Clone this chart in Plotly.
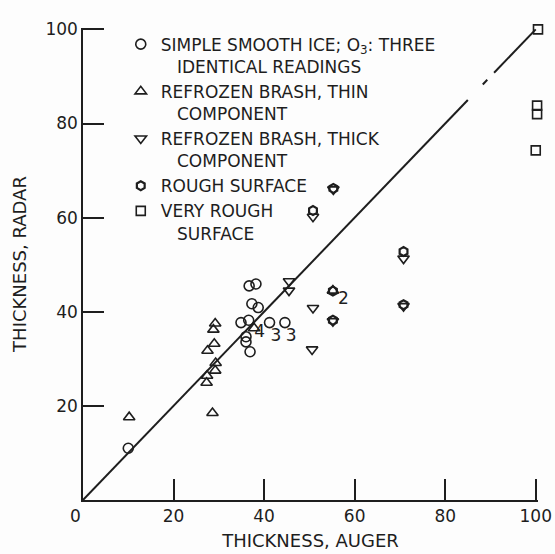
import plotly.graph_objects as go

# --- data ---
smooth_x = [10.0, 36.7, 38.2, 37.3, 38.7, 34.9, 36.6, 36.9, 41.2, 44.6, 36.0, 36.0]
smooth_y = [11.0, 45.5, 45.9, 41.7, 40.9, 37.7, 38.2, 31.5, 37.7, 37.7, 34.7, 33.6]

thin_x = [10.2, 28.6, 27.3, 27.4, 29.2, 29.3, 27.5, 29.0, 28.8, 29.2, 37.8, 55.2]
thin_y = [17.6, 18.5, 24.9, 26.4, 27.5, 29.1, 31.7, 33.2, 36.2, 37.5, 36.5, 44.5]

thick_x = [45.5, 45.5, 50.8, 50.6, 50.8, 55.3, 55.2, 70.8, 70.8]
thick_y = [46.5, 44.5, 40.8, 32.0, 60.2, 66.0, 38.0, 51.3, 41.2]

rough_x = [50.8, 55.3, 55.2, 70.8, 70.8, 55.2]
rough_y = [61.5, 66.2, 38.2, 52.8, 41.5, 44.4]

vrough_x = [100.5, 100.3, 100.3, 100.0]
vrough_y = [100.0, 83.8, 82.0, 74.3]

line_x = [0, 85, None, 88.3, 89.3, None, 90.8, 100]
line_y = [0, 85, None, 88.3, 89.3, None, 90.8, 100]

sub_labels = ["3", "3", "2", "4"]
sub_x = [42.6, 46.0, 57.5, 39.0]
sub_y = [34.6, 34.6, 42.6, 35.6]

x_ticks = [20, 40, 60, 80, 100]
y_ticks = [20, 40, 60, 80, 100]

legend_names = [
    "SIMPLE SMOOTH ICE; O<sub>3</sub>: THREE<br>   IDENTICAL READINGS",
    "REFROZEN BRASH, THIN<br>   COMPONENT",
    "REFROZEN BRASH, THICK<br>   COMPONENT",
    "ROUGH SURFACE",
    "VERY ROUGH<br>   SURFACE",
]

FONT = "DejaVu Sans, Liberation Sans, Arial"
INK = "#1e1e1e"

fig = go.Figure()

fig.add_trace(go.Scatter(x=line_x, y=line_y, mode="lines",
                         line=dict(color=INK, width=2), showlegend=False,
                         hoverinfo="skip"))

def mk(sym, size, width=1.6):
    return dict(symbol=sym, size=size, color=INK,
                line=dict(color=INK, width=width))

fig.add_trace(go.Scatter(x=smooth_x, y=smooth_y, mode="markers",
                         marker=mk("circle-open", 10), name=legend_names[0]))
fig.add_trace(go.Scatter(x=thin_x, y=thin_y, mode="markers",
                         marker=mk("triangle-up-open", 10), name=legend_names[1]))
fig.add_trace(go.Scatter(x=thick_x, y=thick_y, mode="markers",
                         marker=mk("triangle-down-open", 10), name=legend_names[2]))
fig.add_trace(go.Scatter(x=rough_x, y=rough_y, mode="markers",
                         marker=mk("hexagon-open", 9, 2.2), name=legend_names[3]))
fig.add_trace(go.Scatter(x=vrough_x, y=vrough_y, mode="markers", cliponaxis=False,
                         marker=mk("square-open", 9), name=legend_names[4]))

fig.add_trace(go.Scatter(x=sub_x, y=sub_y, mode="text", text=sub_labels,
                         textfont=dict(family=FONT, size=17, color=INK),
                         showlegend=False, hoverinfo="skip"))

axis_common = dict(showgrid=False, zeroline=False, showline=True,
                   linecolor=INK, linewidth=1.5, ticks="inside", ticklen=21,
                   tickwidth=1.5, tickcolor=INK, automargin=False,
                   tickfont=dict(family=FONT, size=17, color=INK))

fig.update_xaxes(range=[0, 100.5], tickvals=x_ticks,
                 ticktext=[str(v) for v in x_ticks],
                 title=dict(text="THICKNESS, AUGER", standoff=9,
                            font=dict(family=FONT, size=18, color=INK)),
                 **axis_common)
fig.update_yaxes(range=[0, 100.3], tickvals=y_ticks,
                 ticktext=[str(v) for v in y_ticks],
                 title=dict(text="THICKNESS, RADAR", standoff=14,
                            font=dict(family=FONT, size=18, color=INK)),
                 **axis_common)

fig.add_annotation(x=0, y=0, xref="x", yref="y", text="0", showarrow=False,
                   xanchor="center", yanchor="top", xshift=-8, yshift=-4,
                   font=dict(family=FONT, size=17, color=INK))

fig.update_layout(
    width=555, height=554,
    margin=dict(l=83, r=17, t=28, b=54),
    paper_bgcolor="#fdfdfd", plot_bgcolor="#fdfdfd",
    showlegend=True,
    legend=dict(x=0.083, y=1.003, xanchor="left", yanchor="top",
                bgcolor="rgba(0,0,0,0)", valign="top",
                font=dict(family=FONT, size=17, color=INK),
                tracegroupgap=0, itemwidth=30),
)

fig.write_html(
    "out.html",
    config={"displayModeBar": False},
    post_script="document.body.style.margin='0';document.body.style.overflow='hidden';",
)
